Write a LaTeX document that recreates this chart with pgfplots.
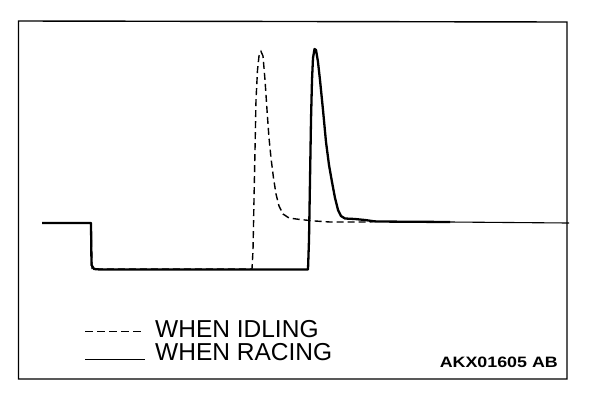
\documentclass[border=0pt]{standalone}
\usepackage{pgfplots}
\pgfplotsset{compat=1.18}
\usepackage{fontspec}
\setmainfont{Liberation Sans}
\usepackage{graphicx}
\begin{document}
\begin{tikzpicture}
\begin{axis}[
  x=1bp, y=1bp, scale only axis, hide axis, clip=false,
  xmin=0, xmax=608, ymin=0, ymax=418, y dir=reverse,
]
\fill[white] (axis cs:0,0) rectangle (axis cs:608,418);
\draw[line width=1.4bp] (axis cs:18.5,21) -- (axis cs:567,22) -- (axis cs:567,379) -- (axis cs:18.5,379) -- cycle;
% WHEN IDLING (dashed)
\addplot[black, line width=1.4bp, dash pattern=on 7bp off 4bp] coordinates {
(42,223) (91,223) (92,269) (252,269) (253,250) (254,200) (255,150) (256,100) (257.5,70) (259,56) (261,51.5) (263,56) (265,80) (267,110) (269,138) (271,158) (273.5,178) (276,194) (279,206) (283,214) (289,218) (300,219.5) (315,221) (330,222) (350,222) (370,222) (376,221)
};
% WHEN RACING (solid)
\addplot[black, line width=2.3bp, line join=round] coordinates {
(42,223) (91,223) (91.5,265) (94,269) (100,269.5) (308,269.5) (309,240) (310,180) (311,120) (312,80) (313,58) (314.5,49) (316,50) (318,62) (320,80) (323,110) (326,142) (329,165) (332,182) (335,198) (338,210) (341,216) (345,218.5) (355,219) (365,220) (372,221) (376,221.5) (450,222)
};
\addplot[black, line width=1.1bp] coordinates {(450,222) (569,223)};
% legend
\addplot[black, line width=1.3bp, dash pattern=on 8bp off 4bp] coordinates {(85,331.5) (145,331.5)};
\addplot[black, line width=1.3bp] coordinates {(85,359.5) (145,359.5)};
\node[anchor=base west, inner sep=0pt, font=\fontsize{24.6}{28}\selectfont] at (axis cs:155,337) {WHEN IDLING};
\node[anchor=base west, inner sep=0pt, font=\fontsize{24.6}{28}\selectfont] at (axis cs:155,360) {WHEN RACING};
\node[anchor=base east, inner sep=0pt] at (axis cs:558,367) {\resizebox{118bp}{10.5bp}{\bfseries AKX01605 AB}};
\end{axis}
\end{tikzpicture}
\end{document}
